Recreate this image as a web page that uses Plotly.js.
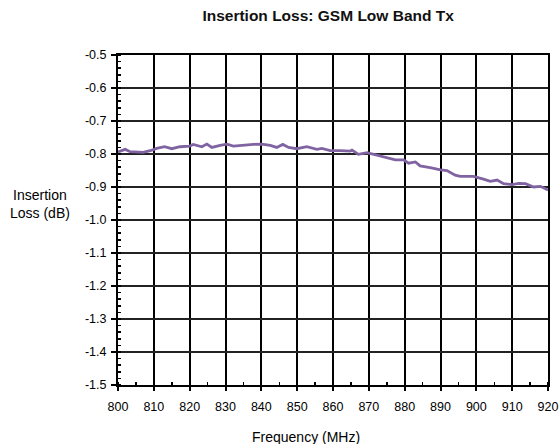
<!DOCTYPE html>
<html>
<head>
<meta charset="utf-8">
<script src="https://cdn.plot.ly/plotly-3.0.1.min.js"></script>
<style>html,body{margin:0;padding:0;background:#fff;}#chart{width:559px;height:444px;}</style>
</head>
<body>
<div id="chart"></div>
<script>
const frequencyMHz = [800, 802, 803.4, 805, 807, 809, 810.8, 813, 815, 817.3, 820, 821, 823.4, 824.8, 826.2, 828.5, 830.4, 832.2, 835, 837.8, 840.1, 842.5, 844.3, 846, 847.6, 849.9, 852.7, 855.5, 856.9, 859.2, 862, 864.8, 865.3, 867.1, 869.5, 872.3, 875, 877.4, 879.7, 881.1, 883, 884.3, 887.1, 890, 891.8, 894.1, 895.5, 896.9, 899.2, 902, 903.9, 905.8, 907.6, 910, 911.8, 913.7, 916, 917.9, 920];
const insertionLossDb = [-0.794, -0.786, -0.793, -0.794, -0.795, -0.790, -0.783, -0.778, -0.784, -0.778, -0.776, -0.771, -0.778, -0.770, -0.780, -0.774, -0.770, -0.776, -0.773, -0.771, -0.770, -0.774, -0.780, -0.771, -0.780, -0.784, -0.778, -0.786, -0.783, -0.790, -0.790, -0.791, -0.788, -0.801, -0.796, -0.804, -0.810, -0.818, -0.818, -0.828, -0.824, -0.836, -0.841, -0.848, -0.850, -0.864, -0.868, -0.868, -0.868, -0.876, -0.883, -0.879, -0.890, -0.893, -0.889, -0.890, -0.900, -0.898, -0.909];
const yTickValues = [-1.5, -1.4, -1.3, -1.2, -1.1, -1.0, -0.9, -0.8, -0.7, -0.6, -0.5];
const yTickLabels = ["-1.5", "-1.4", "-1.3", "-1.2", "-1.1", "-1.0", "-0.9", "-0.8", "-0.7", "-0.6", "-0.5"];
const titleText = "Insertion Loss: GSM Low Band Tx";
const xTitleText = "Frequency (MHz)";
const yTitleText = "Insertion<br>Loss (dB)";

const FONT = "Liberation Sans, Arial, sans-serif";

const trace = {
  x: frequencyMHz,
  y: insertionLossDb,
  type: "scatter",
  mode: "lines",
  line: {color: "#8064A2", width: 2.8},
  hoverinfo: "skip"
};

const layout = {
  width: 559,
  height: 444,
  margin: {l: 118, r: 11, t: 55, b: 59},
  paper_bgcolor: "#fff",
  plot_bgcolor: "#fff",
  showlegend: false,
  font: {family: FONT, color: "#000", size: 12},
  title: {text: "<b>" + titleText + "</b>", x: 0.587, xanchor: "center", y: 0.965, yanchor: "middle", font: {family: FONT, size: 15.5, color: "#111"}},
  xaxis: {
    range: [800, 920],
    dtick: 10,
    tick0: 800,
    showgrid: true,
    gridcolor: "#000",
    gridwidth: 2,
    showline: true,
    linecolor: "#000",
    linewidth: 2,
    mirror: true,
    ticks: "outside",
    ticklen: 4,
    tickwidth: 2,
    tickcolor: "#000",
    ticklabelstandoff: 5,
    zeroline: false,
    tickfont: {family: FONT, size: 12.5, color: "#000"},
    minor: {dtick: 5, tick0: 800, ticks: "inside", ticklen: 3, tickwidth: 1.5, tickcolor: "#000", showgrid: false}
  },
  yaxis: {
    range: [-1.5, -0.5],
    tickmode: "array",
    tickvals: yTickValues,
    ticktext: yTickLabels,
    showgrid: true,
    gridcolor: "#222",
    gridwidth: 2,
    showline: true,
    linecolor: "#000",
    linewidth: 2,
    mirror: true,
    ticks: "outside",
    ticklen: 5,
    tickwidth: 2,
    tickcolor: "#000",
    ticklabelstandoff: 2,
    zeroline: false,
    tickfont: {family: FONT, size: 12.5, color: "#000"},
    minor: {dtick: 0.02, tick0: -1.5, ticks: "inside", ticklen: 3, tickwidth: 1.5, tickcolor: "#000", showgrid: false}
  },
  annotations: [
    {text: yTitleText, xref: "paper", yref: "paper", x: -0.181, y: 0.548, xanchor: "center", yanchor: "middle", showarrow: false, align: "center", font: {family: FONT, size: 14, color: "#000"}},
    {text: xTitleText, xref: "paper", yref: "paper", x: 0.437, y: -0.158, xanchor: "center", yanchor: "middle", showarrow: false, font: {family: FONT, size: 14, color: "#000"}}
  ]
};

Plotly.newPlot("chart", [trace], layout, {staticPlot: true, displayModeBar: false});
</script>
</body>
</html>
